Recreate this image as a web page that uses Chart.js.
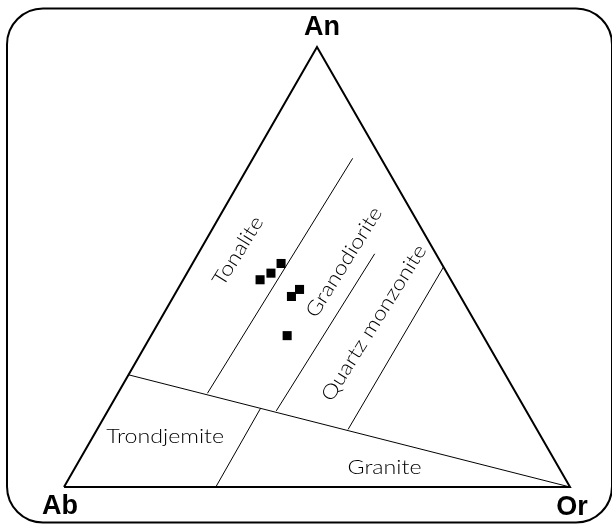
<!DOCTYPE html>
<html>
<head>
<meta charset="utf-8">
<script src="https://cdn.jsdelivr.net/npm/chart.js@4/dist/chart.umd.min.js"></script>
<style>
  html, body { margin: 0; padding: 0; background: #fff; overflow: hidden; }
  canvas { display: block; }
</style>
</head>
<body>
<canvas id="ternary-chart" width="612" height="524"></canvas>
<script>
// sample compositions in percent (Ab is whatever is left over)
const sampleAn = [47.1, 48.6, 50.8, 43.3, 44.9, 34.4];
const sampleOr = [15.2, 16.6, 17.5, 23.3, 24.1, 26.9];

// field boundaries, each one a line from a start to an end composition
const boundaryAn = [[25.5, 0], [21.3, 74.7], [17.3, 53.0], [13.1, 50.0], [17.9, 0]];
const boundaryOr = [[0, 100], [17.7, 19.7], [33.3, 34.9], [49.6, 50.0], [29.9, 30.0]];

// field names and the composition at the middle of each name
const fieldNames = ['Tonalite', 'Granodiorite', 'Quartz monzonite', 'Trondjemite', 'Granite'];
const fieldAn = [53.6, 51.1, 37.3, 11.4, 4.5];
const fieldOr = [7.6, 29.8, 42.6, 14.3, 61.1];

// corner end members: An on top, Ab bottom left, Or bottom right
const apexNames = ['An', 'Ab', 'Or'];
const apexAn = [100, 0, 0];
const apexOr = [0, 0, 100];

// turn an (An, Or) composition into a point of the triangle
function toXY(an, or) {
    return { x: (or + an / 2) / 100, y: an / 100 };
}

// outline of the triangle, closed back on Ab
var outline = [1, 2, 0, 1].map(function (i) {
    return toXY(apexAn[i], apexOr[i]);
});

var datasets = [{
    label: 'outline',
    data: outline,
    showLine: true,
    borderColor: '#000',
    borderWidth: 2,
    pointRadius: 0,
    clip: false
}];

// one thin line per field boundary
boundaryAn.forEach(function (an, i) {
    datasets.push({
        label: 'boundary ' + i,
        data: [toXY(an[0], boundaryOr[i][0]), toXY(an[1], boundaryOr[i][1])],
        showLine: true,
        borderColor: '#000',
        borderWidth: 1,
        pointRadius: 0,
        clip: false
    });
});

// the samples as filled black squares
datasets.push({
    label: 'samples',
    data: sampleAn.map(function (an, i) { return toXY(an, sampleOr[i]); }),
    pointStyle: 'rect',
    pointRadius: 6.4,
    pointBackgroundColor: '#000',
    pointBorderColor: '#000',
    pointBorderWidth: 0,
    clip: false
});

// white page and the rounded frame round the whole figure
const framePlugin = {
    id: 'frame',
    beforeDraw: function (chart) {
        var ctx = chart.ctx;
        ctx.save();
        ctx.fillStyle = '#fff';
        ctx.fillRect(0, 0, chart.width, chart.height);
        ctx.beginPath();
        ctx.roundRect(7, 8.5, 605, 514, 36);
        ctx.lineWidth = 2;
        ctx.strokeStyle = '#000';
        ctx.stroke();
        ctx.restore();
    }
};

// field names and corner names, placed through the chart scales
const labelPlugin = {
    id: 'labels',
    afterDatasetsDraw: function (chart) {
        var ctx = chart.ctx;
        var xs = chart.scales.x;
        var ys = chart.scales.y;
        ctx.save();
        ctx.fillStyle = '#000';
        ctx.textAlign = 'center';
        ctx.textBaseline = 'middle';

        fieldNames.forEach(function (name, i) {
            var p = toXY(fieldAn[i], fieldOr[i]);
            ctx.save();
            ctx.translate(xs.getPixelForValue(p.x), ys.getPixelForValue(p.y));
            // the three upper fields are written along the boundaries
            if (i < 3) {
                ctx.rotate(-58 * Math.PI / 180);
            }
            // the original face is a wide geometric one, so stretch a light sans
            ctx.scale(1.16, 1);
            ctx.font = '300 20px "Lato", "DejaVu Sans", sans-serif';
            ctx.fillText(name, 0, 0);
            ctx.restore();
        });

        // corner names sit just outside each vertex
        var offsets = [[5, -19], [-4, 20], [2, 21]];
        ctx.font = 'bold 27px "Liberation Sans", Arial, sans-serif';
        apexNames.forEach(function (name, i) {
            var p = toXY(apexAn[i], apexOr[i]);
            ctx.fillText(name,
                xs.getPixelForValue(p.x) + offsets[i][0],
                ys.getPixelForValue(p.y) + offsets[i][1]);
        });
        ctx.restore();
    }
};

var ctx = document.getElementById('ternary-chart').getContext('2d');
new Chart(ctx, {
    type: 'scatter',
    data: { datasets: datasets },
    options: {
        responsive: false,
        animation: false,
        devicePixelRatio: 1,
        layout: {
            padding: { left: 64, right: 42, top: 47, bottom: 37 }
        },
        plugins: {
            legend: { display: false },
            tooltip: { enabled: false }
        },
        scales: {
            x: { type: 'linear', min: 0, max: 1, display: false },
            y: { type: 'linear', min: 0, max: 1, display: false }
        }
    },
    plugins: [framePlugin, labelPlugin]
});
</script>
</body>
</html>
